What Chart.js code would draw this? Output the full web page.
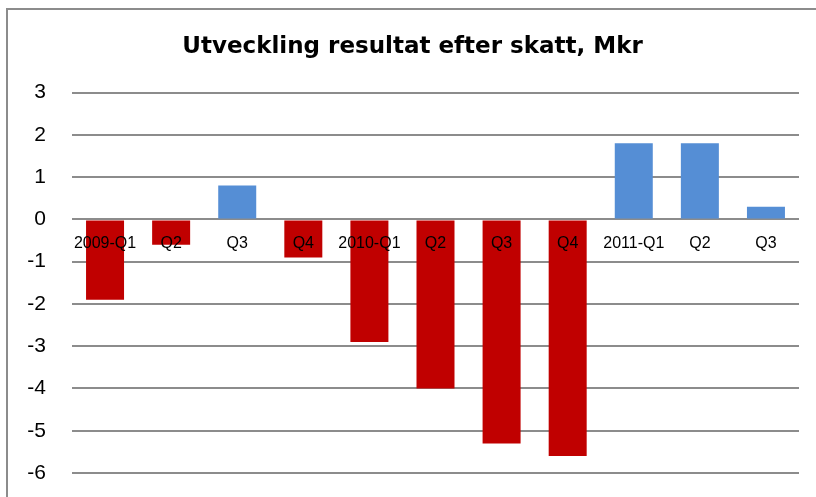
<!DOCTYPE html>
<html>
<head>
<meta charset="utf-8">
<title>Utveckling resultat efter skatt, Mkr</title>
<script src="https://cdn.jsdelivr.net/npm/chart.js@4/dist/chart.umd.min.js"></script>
<style>
    html, body { margin: 0; padding: 0; background: #fff; }
    #wrap { position: relative; width: 816px; height: 497px; overflow: hidden; }
    #frame {
        position: absolute; left: 6px; top: 8px; width: 900px; height: 600px;
        border: 2px solid #8c8c8c; box-sizing: border-box; pointer-events: none;
    }
    canvas { position: absolute; left: 0; top: 0; }
</style>
</head>
<body>
<div id="wrap">
    <canvas id="chart" width="816" height="497"></canvas>
    <div id="frame"></div>
</div>
<script>
// Quarterly results after tax, Mkr
const quarters = ['2009-Q1', 'Q2', 'Q3', 'Q4', '2010-Q1', 'Q2', 'Q3', 'Q4', '2011-Q1', 'Q2', 'Q3'];
const result = [-1.9, -0.6, 0.8, -0.9, -2.9, -4.0, -5.3, -5.6, 1.8, 1.8, 0.3];
const yTicks = [3, 2, 1, 0, -1, -2, -3, -4, -5, -6];

const posColor = '#558ed5';
const negColor = '#c00000';
const gridColor = '#8c8c8c';

const barColors = result.map(v => (v < 0 ? negColor : posColor));

const ctx = document.getElementById('chart').getContext('2d');

new Chart(ctx, {
    type: 'bar',
    data: {
        labels: quarters,
        datasets: [{
            label: 'Resultat efter skatt',
            data: result,
            backgroundColor: barColors,
            borderWidth: 0,
            barPercentage: 0.575,
            categoryPercentage: 1.0
        }]
    },
    options: {
        responsive: false,
        animation: false,
        layout: {
            padding: { left: 26, right: 17, top: 33, bottom: 24 }
        },
        plugins: {
            legend: { display: false },
            tooltip: { enabled: false },
            title: {
                display: true,
                text: 'Utveckling resultat efter skatt, Mkr',
                color: '#000',
                font: { family: 'DejaVu Sans', size: 23, weight: 'bold' },
                padding: { top: 0, bottom: 32 }
            }
        },
        scales: {
            x: {
                position: { y: 0 },
                grid: { display: false, drawTicks: false },
                border: { display: false },
                afterFit: scale => {
                    // labels sit on the zero line, they need no room of their own
                    scale.height = 0;
                    scale.paddingLeft = 0;
                    scale.paddingRight = 0;
                },
                ticks: {
                    z: 1,
                    color: '#000',
                    font: { family: 'Liberation Sans', size: 16 },
                    padding: 15,
                    autoSkip: false,
                    maxRotation: 0,
                    minRotation: 0
                }
            },
            y: {
                min: -6,
                max: 3,
                afterBuildTicks: scale => {
                    scale.ticks = yTicks.map(v => ({ value: v }));
                },
                afterFit: scale => {
                    // v4 counts the tick padding twice here
                    scale.width = 46;
                    scale.paddingTop = 0;
                    scale.paddingBottom = 0;
                },
                grid: { color: gridColor, lineWidth: 2, drawTicks: false },
                border: { display: false },
                ticks: {
                    color: '#000',
                    font: { family: 'Liberation Sans', size: 21 },
                    padding: 26
                }
            }
        }
    }
});
</script>
</body>
</html>
